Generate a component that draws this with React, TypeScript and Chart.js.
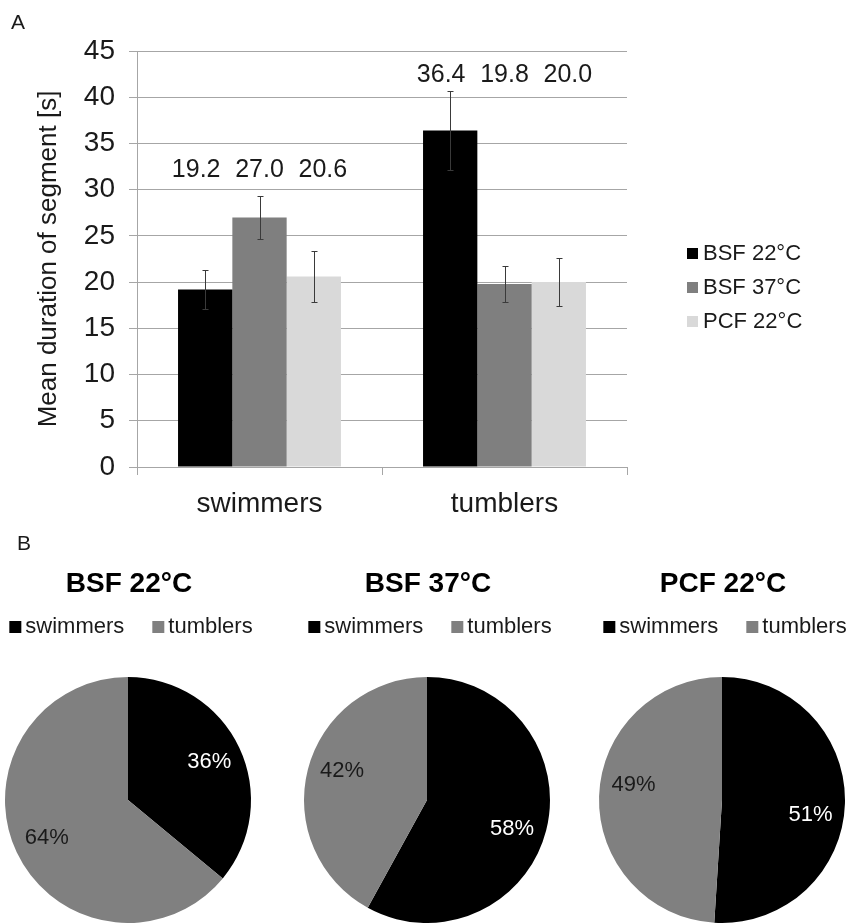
import React, { useEffect, useRef } from "react";
import { Chart, registerables } from "chart.js";

Chart.register(...registerables);

const FONT = "'Liberation Sans', Arial, Helvetica, sans-serif";
const TEXT = "#1a1a1a";
const GRID = "#a6a6a6";

// ---------- Panel A data ----------
const categories = ["swimmers", "tumblers"];
const seriesNames = ["BSF 22°C", "BSF 37°C", "PCF 22°C"];
const bsf22 = [19.2, 36.4];
const bsf37 = [27.0, 19.8];
const pcf22 = [20.6, 20.0];
const bsf22Err = [2.1, 4.3];
const bsf37Err = [2.3, 1.9];
const pcf22Err = [2.8, 2.6];
const barColors = ["#000000", "#7f7f7f", "#d9d9d9"];
const yMin = 0;
const yMax = 45;
const yStep = 5;
const valueLabelLevels = [31.4, 41.7];
const yTitle = "Mean duration of segment [s]";

// ---------- Panel B data ----------
const pieTitles = ["BSF 22°C", "BSF 37°C", "PCF 22°C"];
const pieLabels = ["swimmers", "tumblers"];
const pieSwimmers = [36, 58, 51];
const pieTumblers = [64, 42, 49];
const pieColors = ["#000000", "#808080"];
const pieTextColors = ["#ffffff", "#1a1a1a"];
const pieLabelNudgeDeg = [0, 4.5, 8];

function BarPanel() {
  const ref = useRef<HTMLCanvasElement>(null);
  useEffect(() => {
    const canvas = ref.current!;
    const values = [bsf22, bsf37, pcf22];
    const errs = [bsf22Err, bsf37Err, pcf22Err];

    const errorBars = {
      id: "errorBars",
      afterDatasetsDraw(chart: any) {
        const ctx = chart.ctx;
        const ys = chart.scales.y;
        ctx.save();
        ctx.strokeStyle = "#3a3a3a";
        ctx.lineWidth = 1;
        chart.data.datasets.forEach((ds: any, i: number) => {
          const meta = chart.getDatasetMeta(i);
          meta.data.forEach((bar: any, j: number) => {
            const v = ds.data[j];
            const e = errs[i][j];
            const x = Math.round(bar.x) + 0.5;
            const y1 = Math.round(ys.getPixelForValue(v + e)) + 0.5;
            const y2 = Math.round(ys.getPixelForValue(v - e)) + 0.5;
            ctx.beginPath();
            ctx.moveTo(x, y1);
            ctx.lineTo(x, y2);
            ctx.moveTo(x - 3, y1);
            ctx.lineTo(x + 3, y1);
            ctx.moveTo(x - 3, y2);
            ctx.lineTo(x + 3, y2);
            ctx.stroke();
          });
        });
        ctx.restore();
      },
    };

    const valueLabels = {
      id: "valueLabels",
      afterDatasetsDraw(chart: any) {
        const ctx = chart.ctx;
        const ys = chart.scales.y;
        ctx.save();
        ctx.font = `25px ${FONT}`;
        ctx.fillStyle = TEXT;
        ctx.textAlign = "center";
        ctx.textBaseline = "alphabetic";
        chart.data.datasets.forEach((ds: any, i: number) => {
          const meta = chart.getDatasetMeta(i);
          meta.data.forEach((bar: any, j: number) => {
            const y = ys.getPixelForValue(valueLabelLevels[j]);
            ctx.fillText(ds.data[j].toFixed(1), bar.x + (i - 1) * 9, y);
          });
        });
        ctx.restore();
      },
    };

    const sideLegend = {
      id: "sideLegend",
      afterDraw(chart: any) {
        const ctx = chart.ctx;
        ctx.save();
        ctx.font = `22px ${FONT}`;
        ctx.textBaseline = "alphabetic";
        ctx.textAlign = "left";
        chart.data.datasets.forEach((ds: any, i: number) => {
          const base = 260 + i * 34;
          ctx.fillStyle = ds.backgroundColor;
          ctx.fillRect(687, base - 12, 11, 11);
          ctx.fillStyle = TEXT;
          ctx.fillText(ds.label, 703, base);
        });
        ctx.font = `21px ${FONT}`;
        ctx.fillText("A", 11, 29);
        ctx.restore();
      },
    };

    const chart = new Chart(canvas, {
      type: "bar",
      data: {
        labels: categories,
        datasets: values.map((v, i) => ({
          label: seriesNames[i],
          data: v,
          backgroundColor: barColors[i],
          borderWidth: 0,
          barPercentage: 1,
          categoryPercentage: 0.665,
        })),
      },
      options: {
        responsive: false,
        animation: false,
        events: [],
        layout: { padding: { left: 0, top: 51, right: 225, bottom: 0 } },
        plugins: {
          legend: { display: false },
          tooltip: { enabled: false },
          title: { display: false },
        },
        scales: {
          x: {
            ticks: { font: { size: 28, family: FONT }, color: TEXT, padding: 12 },
            grid: {
              display: true,
              drawOnChartArea: false,
              drawTicks: true,
              tickLength: 8,
              offset: true,
              color: GRID,
            },
            border: { display: true, color: GRID, width: 1 },
            afterFit: (s: any) => {
              s.height = 63;
            },
          },
          y: {
            min: yMin,
            max: yMax,
            ticks: {
              stepSize: yStep,
              font: { size: 28, family: FONT },
              color: TEXT,
              padding: 14,
            },
            grid: { color: GRID, lineWidth: 1, tickLength: 8, drawTicks: true },
            border: { display: true, color: GRID, width: 1 },
            title: {
              display: true,
              text: yTitle,
              font: { size: 26, family: FONT },
              color: TEXT,
              padding: { top: 33, bottom: 0 },
            },
            afterFit: (s: any) => {
              s.width = 137;
            },
          },
        },
      },
      plugins: [errorBars, valueLabels, sideLegend],
    } as any);
    return () => chart.destroy();
  }, []);
  return (
    <canvas
      ref={ref}
      width={852}
      height={530}
      style={{ position: "absolute", left: 0, top: 0, width: 852, height: 530 }}
    />
  );
}

const PIE_CX = [128, 427, 722];
const PIE_R = 123;

function PiePanel({ idx }: { idx: number }) {
  const ref = useRef<HTMLCanvasElement>(null);
  const x0 = idx * 284;
  useEffect(() => {
    const canvas = ref.current!;
    const cx = PIE_CX[idx] - x0;
    const padLeft = cx - PIE_R;
    const padRight = 284 - (cx + PIE_R);

    const decor = {
      id: "pieDecor",
      afterDraw(chart: any) {
        const ctx = chart.ctx;
        ctx.save();
        // title
        ctx.font = `bold 28px ${FONT}`;
        ctx.fillStyle = "#000";
        ctx.textAlign = "center";
        ctx.textBaseline = "alphabetic";
        ctx.fillText(pieTitles[idx], cx + 1, 62);
        // legend
        ctx.font = `22px ${FONT}`;
        ctx.textAlign = "left";
        const box = 12;
        const gap = 4;
        const itemGap = 28;
        const widths = pieLabels.map((l) => ctx.measureText(l).width);
        const total = widths.reduce((a, w) => a + box + gap + w, 0) + itemGap;
        let x = cx + 3 - total / 2;
        const base = 103;
        pieLabels.forEach((l, i) => {
          ctx.fillStyle = pieColors[i];
          ctx.fillRect(x, base - box, box, box);
          ctx.fillStyle = TEXT;
          ctx.fillText(l, x + box + gap, base);
          x += box + gap + widths[i] + itemGap;
        });
        // percentage labels
        const meta = chart.getDatasetMeta(0);
        const total2 = chart.data.datasets[0].data.reduce((a: number, b: number) => a + b, 0);
        ctx.textAlign = "center";
        ctx.textBaseline = "middle";
        const nudge = (pieLabelNudgeDeg[idx] * Math.PI) / 180;
        meta.data.forEach((arc: any, i: number) => {
          const mid = (arc.startAngle + arc.endAngle) / 2 + nudge;
          const r = arc.outerRadius * 0.73;
          const px = arc.x + Math.cos(mid) * r;
          const py = arc.y + Math.sin(mid) * r;
          ctx.fillStyle = pieTextColors[i];
          const v = chart.data.datasets[0].data[i];
          ctx.fillText(`${Math.round((v / total2) * 100)}%`, px, py);
        });
        if (idx === 0) {
          ctx.font = `21px ${FONT}`;
          ctx.textAlign = "left";
          ctx.textBaseline = "alphabetic";
          ctx.fillStyle = TEXT;
          ctx.fillText("B", 17, 20);
        }
        ctx.restore();
      },
    };

    const chart = new Chart(canvas, {
      type: "pie",
      data: {
        labels: pieLabels,
        datasets: [
          {
            data: [pieSwimmers[idx], pieTumblers[idx]],
            backgroundColor: pieColors,
            borderWidth: 0,
            hoverOffset: 0,
          },
        ],
      },
      options: {
        responsive: false,
        animation: false,
        events: [],
        layout: { padding: { left: padLeft, right: padRight, top: 147, bottom: 0 } },
        plugins: { legend: { display: false }, tooltip: { enabled: false } },
      },
      plugins: [decor],
    } as any);
    return () => chart.destroy();
  }, [idx]);
  return (
    <canvas
      ref={ref}
      width={284}
      height={393}
      style={{ position: "absolute", left: x0, top: 530, width: 284, height: 393 }}
    />
  );
}

export default function App() {
  return (
    <div
      style={{
        position: "absolute",
        left: 0,
        top: 0,
        width: 852,
        height: 923,
        overflow: "hidden",
        background: "#fff",
      }}
    >
      <BarPanel />
      <PiePanel idx={0} />
      <PiePanel idx={1} />
      <PiePanel idx={2} />
    </div>
  );
}
